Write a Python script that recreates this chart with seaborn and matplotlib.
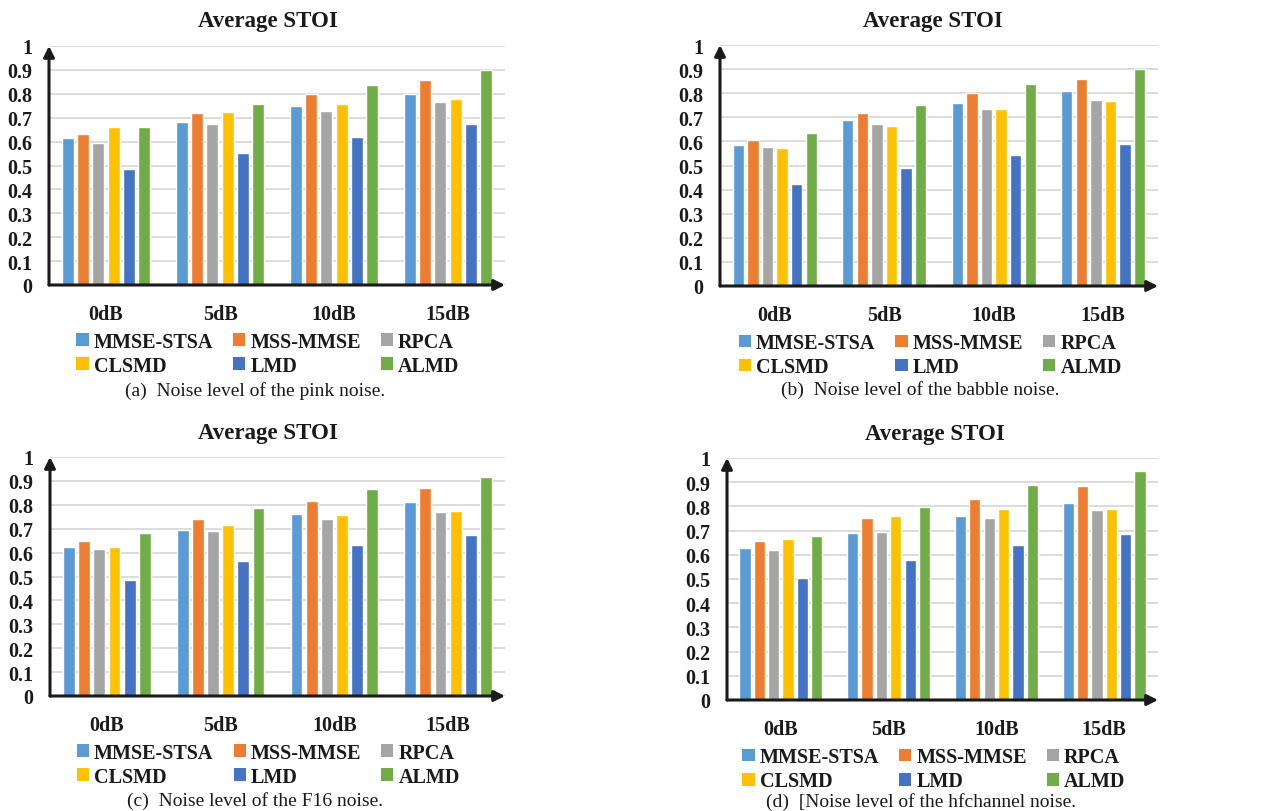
import numpy as np
import pandas as pd
import matplotlib
matplotlib.use("Agg")
import matplotlib.pyplot as plt
from matplotlib.patches import Patch
import seaborn as sns

sns.set_style("white")
plt.rcParams['font.family'] = ['Liberation Serif', 'DejaVu Serif']

conditions = ["0dB", "5dB", "10dB", "15dB"]
methods = ["MMSE-STSA", "MSS-MMSE", "RPCA", "CLSMD", "LMD", "ALMD"]
colors = ["#5B9BD5", "#ED7D31", "#A5A5A5", "#FFC000", "#4472C4", "#70AD47"]

# values[method] = [0dB, 5dB, 10dB, 15dB]
pink = {
    "MMSE-STSA": [0.616, 0.683, 0.748, 0.799],
    "MSS-MMSE":  [0.633, 0.721, 0.798, 0.856],
    "RPCA":      [0.594, 0.672, 0.729, 0.767],
    "CLSMD":     [0.660, 0.724, 0.759, 0.777],
    "LMD":       [0.484, 0.552, 0.618, 0.674],
    "ALMD":      [0.660, 0.759, 0.838, 0.898],
}
babble = {
    "MMSE-STSA": [0.586, 0.689, 0.759, 0.810],
    "MSS-MMSE":  [0.606, 0.716, 0.799, 0.859],
    "RPCA":      [0.577, 0.671, 0.736, 0.770],
    "CLSMD":     [0.573, 0.663, 0.736, 0.768],
    "LMD":       [0.425, 0.488, 0.544, 0.588],
    "ALMD":      [0.636, 0.751, 0.838, 0.899],
}
f16 = {
    "MMSE-STSA": [0.623, 0.696, 0.760, 0.813],
    "MSS-MMSE":  [0.649, 0.742, 0.817, 0.870],
    "RPCA":      [0.614, 0.690, 0.742, 0.771],
    "CLSMD":     [0.623, 0.715, 0.756, 0.773],
    "LMD":       [0.484, 0.563, 0.630, 0.675],
    "ALMD":      [0.682, 0.787, 0.866, 0.918],
}
hfchannel = {
    "MMSE-STSA": [0.630, 0.691, 0.761, 0.816],
    "MSS-MMSE":  [0.655, 0.751, 0.831, 0.885],
    "RPCA":      [0.620, 0.696, 0.751, 0.785],
    "CLSMD":     [0.667, 0.762, 0.790, 0.789],
    "LMD":       [0.506, 0.580, 0.639, 0.688],
    "ALMD":      [0.678, 0.798, 0.888, 0.946],
}

yticks = [0, 0.1, 0.2, 0.3, 0.4, 0.5, 0.6, 0.7, 0.8, 0.9, 1.0]
ytick_labels = ["0", "0.1", "0.2", "0.3", "0.4", "0.5", "0.6", "0.7", "0.8", "0.9", "1"]
title = "Average STOI"
captions = ["(a)  Noise level of the pink noise.",
            "(b)  Noise level of the babble noise.",
            "(c)  Noise level of the F16 noise.",
            "(d)  [Noise level of the hfchannel noise."]

W, H = 1278, 812
fig = plt.figure(figsize=(W / 100, H / 100), dpi=100)

# (left, right, top(y=1), bottom(y=0)) in pixels
panels_px = [
    (49, 505, 47, 286),
    (720, 1158, 46, 287),
    (50, 505, 458, 697),
    (727, 1158, 459, 701),
]
caption_pos = [(255, 391), (920, 390), (255, 801), (921, 802)]
title_pos = [(268, 21), (933, 21), (268, 434), (935, 435)]
datasets = [pink, babble, f16, hfchannel]

for i, (data, (l, r, t, b)) in enumerate(zip(datasets, panels_px)):
    ax = fig.add_axes([l / W, 1 - b / H, (r - l) / W, (b - t) / H])
    rows = []
    for m in methods:
        for c, v in zip(conditions, data[m]):
            rows.append({"cond": c, "method": m, "value": v})
    df = pd.DataFrame(rows)
    sns.barplot(data=df, x="cond", y="value", hue="method", order=conditions,
                hue_order=methods, palette=colors, width=0.8, gap=0.22,
                saturation=1, legend=False, ax=ax, zorder=3)
    ax.set_xlim(-0.5, 3.5)
    ax.set_ylim(0, 1)
    ax.set_yticks(yticks)
    ax.set_yticklabels(ytick_labels)
    ax.set_xlabel("")
    ax.set_ylabel("")
    ax.grid(axis="y", color="#d9d9d9", linewidth=1.3, zorder=0)
    ax.set_axisbelow(True)
    for s in ax.spines.values():
        s.set_visible(False)
    ax.tick_params(axis="both", length=0)
    ax.tick_params(axis="x", pad=14)
    ax.tick_params(axis="y", pad=12)
    for lab in ax.get_xticklabels() + ax.get_yticklabels():
        lab.set_fontsize(14.5)
        lab.set_fontweight("bold")
        lab.set_color("#1a1a1a")
    # arrowed axes
    ax.annotate("", xy=(0, 1.0), xytext=(0, 0), xycoords="axes fraction",
                arrowprops=dict(arrowstyle="-|>", lw=2.2, color="#1a1a1a",
                                mutation_scale=16, shrinkA=0, shrinkB=0),
                annotation_clip=False, zorder=5)
    ax.annotate("", xy=(1.0, 0), xytext=(0, 0), xycoords="axes fraction",
                arrowprops=dict(arrowstyle="-|>", lw=2.2, color="#1a1a1a",
                                mutation_scale=16, shrinkA=0, shrinkB=0),
                annotation_clip=False, zorder=5)

    handles = [Patch(facecolor=c, edgecolor="none", label=m) for m, c in zip(methods, colors)]
    # ncol=3 fills column-wise; reorder for row-wise
    order = [0, 3, 1, 4, 2, 5]
    leg = ax.legend([handles[k] for k in order], [methods[k] for k in order],
                    ncol=3, loc="upper center", bbox_to_anchor=(0.48, -0.195),
                    frameon=False, prop={"weight": "bold", "size": 14.5},
                    handlelength=0.6, handleheight=0.6, handletextpad=0.25,
                    columnspacing=1.0, labelspacing=0.2, borderpad=0,
                    borderaxespad=0)
    for txt in leg.get_texts():
        txt.set_color("#1a1a1a")

    tx, ty = title_pos[i]
    fig.text(tx / W, 1 - ty / H, title, ha="center", va="center",
             fontsize=16.5, fontweight="bold", color="#1a1a1a")
    cx, cy = caption_pos[i]
    fig.text(cx / W, 1 - cy / H, captions[i], ha="center", va="center",
             fontsize=14, color="#1a1a1a")

fig.savefig("out.png", dpi=100, facecolor="white")
